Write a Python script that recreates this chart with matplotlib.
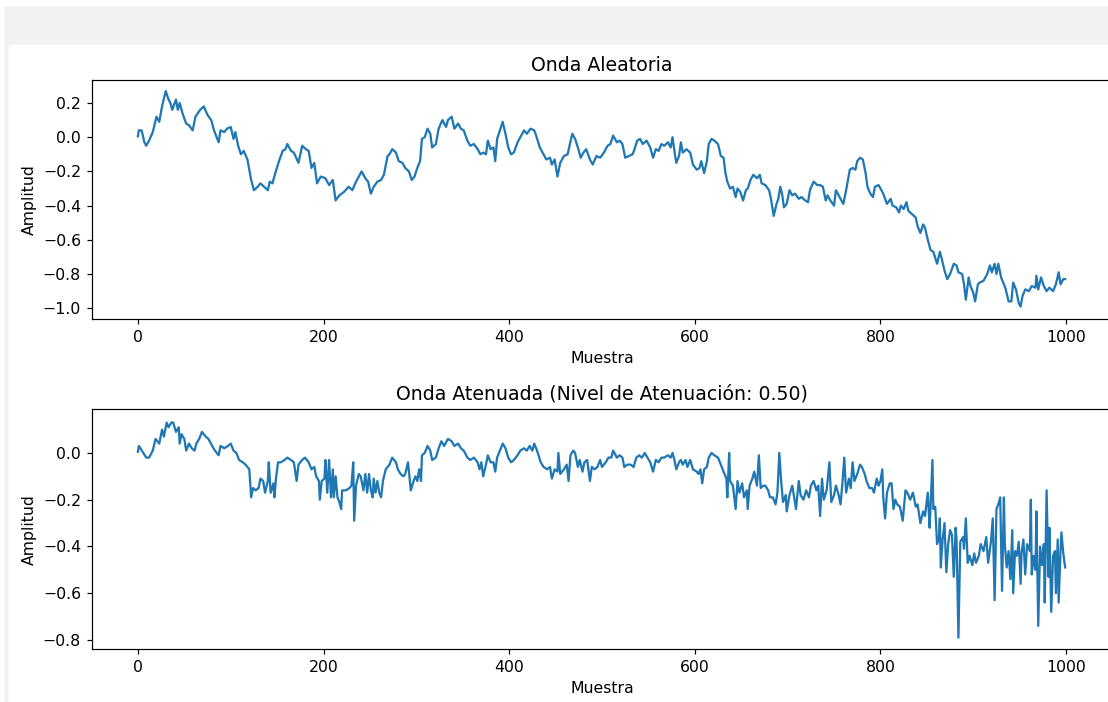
import matplotlib
matplotlib.use("Agg")
import matplotlib.pyplot as plt
from matplotlib.patches import Rectangle
from matplotlib.ticker import MultipleLocator

# valores (muestra, amplitud)
muestra_a = [
    0, 1, 4, 7, 9, 12, 16, 20, 23, 26,
    30, 33, 35, 37, 41, 43, 45, 48, 52, 55,
    59, 62, 67, 71, 75, 79, 82, 87, 89, 93,
    96, 100, 103, 105, 108, 111, 114, 118, 122, 125,
    129, 132, 136, 140, 142, 145, 148, 152, 156, 159,
    161, 165, 168, 173, 177, 181, 184, 187, 190, 193,
    197, 202, 206, 210, 213, 217, 222, 227, 231, 235,
    238, 241, 245, 248, 251, 254, 258, 262, 265, 269,
    271, 274, 278, 281, 285, 288, 292, 295, 298, 301,
    304, 306, 309, 312, 315, 317, 321, 324, 328, 332,
    334, 338, 341, 345, 348, 351, 355, 358, 362, 366,
    369, 372, 375, 377, 380, 383, 385, 387, 390, 393,
    396, 399, 402, 405, 409, 412, 416, 419, 423, 427,
    429, 433, 437, 440, 444, 446, 449, 452, 455, 459,
    463, 465, 468, 471, 474, 477, 480, 483, 487, 490,
    494, 498, 502, 506, 509, 512, 516, 519, 522, 525,
    529, 533, 535, 538, 541, 544, 548, 552, 555, 558,
    561, 564, 567, 571, 574, 576, 578, 580, 583, 585,
    587, 591, 595, 598, 602, 605, 607, 610, 613, 615,
    618, 621, 625, 628, 631, 633, 635, 638, 641, 644,
    646, 649, 652, 655, 657, 660, 663, 667, 670, 672,
    676, 680, 682, 685, 688, 690, 692, 694, 696, 699,
    702, 705, 708, 712, 715, 719, 722, 724, 728, 732,
    735, 738, 741, 743, 746, 750, 752, 756, 760, 763,
    767, 770, 773, 775, 778, 781, 784, 786, 789, 792,
    794, 798, 801, 803, 807, 811, 813, 817, 820, 822,
    825, 828, 830, 834, 838, 840, 843, 846, 848, 851,
    854, 857, 861, 864, 866, 869, 872, 875, 879, 882,
    884, 888, 890, 892, 895, 897, 900, 902, 905, 907,
    911, 915, 918, 920, 923, 925, 927, 930, 933, 935,
    938, 941, 943, 946, 949, 951, 953, 956, 960, 963,
    967, 968, 970, 973, 976, 979, 982, 986, 989, 992,
    994, 997, 999,
]
amplitud_a = [
    0.005, 0.04, 0.04, -0.03, -0.05, -0.02, 0.03, 0.12, 0.09, 0.18,
    0.27, 0.22, 0.20, 0.16, 0.22, 0.16, 0.20, 0.14, 0.08, 0.07,
    0.04, 0.12, 0.16, 0.18, 0.13, 0.10, 0.04, -0.03, 0.04, 0.03,
    0.05, 0.06, -0.01, 0.03, -0.05, -0.10, -0.08, -0.13, -0.25, -0.31,
    -0.29, -0.27, -0.29, -0.31, -0.26, -0.27, -0.21, -0.14, -0.08, -0.07,
    -0.04, -0.08, -0.09, -0.15, -0.05, -0.07, -0.08, -0.18, -0.15, -0.27,
    -0.23, -0.24, -0.28, -0.25, -0.37, -0.34, -0.32, -0.29, -0.31, -0.26,
    -0.23, -0.20, -0.24, -0.26, -0.33, -0.29, -0.26, -0.25, -0.22, -0.11,
    -0.10, -0.07, -0.09, -0.14, -0.15, -0.18, -0.20, -0.25, -0.23, -0.18,
    -0.14, -0.01, 0.00, 0.05, 0.02, -0.06, -0.04, 0.05, 0.10, 0.06,
    0.10, 0.12, 0.05, 0.08, 0.05, 0.04, -0.02, -0.05, -0.04, -0.07,
    -0.10, -0.09, -0.10, -0.02, -0.07, -0.06, -0.14, -0.01, 0.04, 0.09,
    0.02, -0.06, -0.10, -0.09, -0.03, 0.00, 0.04, 0.02, 0.05, 0.04,
    0.01, -0.06, -0.10, -0.13, -0.12, -0.16, -0.13, -0.23, -0.15, -0.11,
    -0.10, -0.05, 0.02, -0.01, -0.06, -0.12, -0.09, -0.07, -0.13, -0.16,
    -0.11, -0.12, -0.09, -0.05, -0.04, 0.01, -0.03, -0.02, -0.04, -0.12,
    -0.11, -0.10, -0.07, -0.02, -0.01, -0.04, -0.02, -0.06, -0.12, -0.07,
    -0.08, -0.04, -0.05, -0.03, -0.06, 0.00, -0.08, -0.15, -0.11, -0.03,
    -0.09, -0.07, -0.09, -0.16, -0.19, -0.18, -0.14, -0.21, -0.14, -0.04,
    -0.01, -0.02, -0.04, -0.11, -0.12, -0.21, -0.26, -0.30, -0.29, -0.35,
    -0.30, -0.32, -0.37, -0.31, -0.30, -0.25, -0.22, -0.24, -0.22, -0.27,
    -0.28, -0.31, -0.36, -0.46, -0.39, -0.36, -0.29, -0.33, -0.41, -0.39,
    -0.31, -0.34, -0.33, -0.36, -0.35, -0.37, -0.38, -0.31, -0.26, -0.28,
    -0.28, -0.29, -0.37, -0.34, -0.37, -0.40, -0.31, -0.35, -0.39, -0.31,
    -0.19, -0.18, -0.19, -0.14, -0.12, -0.13, -0.21, -0.29, -0.33, -0.35,
    -0.29, -0.28, -0.31, -0.33, -0.39, -0.36, -0.40, -0.41, -0.44, -0.40,
    -0.42, -0.38, -0.43, -0.45, -0.47, -0.52, -0.56, -0.51, -0.53, -0.60,
    -0.66, -0.67, -0.74, -0.67, -0.71, -0.78, -0.83, -0.80, -0.74, -0.75,
    -0.79, -0.80, -0.86, -0.95, -0.82, -0.87, -0.91, -0.96, -0.86, -0.85,
    -0.84, -0.80, -0.75, -0.79, -0.74, -0.80, -0.74, -0.82, -0.86, -0.89,
    -0.96, -0.96, -0.85, -0.89, -0.97, -0.99, -0.93, -0.89, -0.90, -0.87,
    -0.88, -0.81, -0.89, -0.82, -0.87, -0.90, -0.88, -0.90, -0.86, -0.79,
    -0.86, -0.83, -0.83,
]

muestra_b = [
    0, 1, 5, 9, 12, 16, 19, 23, 26, 28,
    31, 33, 36, 38, 41, 44, 45, 47, 50, 52,
    55, 58, 61, 63, 66, 69, 73, 76, 80, 83,
    87, 89, 93, 97, 100, 103, 106, 109, 113, 116,
    120, 122, 124, 127, 130, 132, 135, 137, 140, 141,
    143, 146, 147, 149, 151, 154, 158, 161, 165, 168,
    171, 173, 177, 180, 184, 187, 190, 192, 195, 196,
    198, 201, 202, 204, 206, 208, 210, 211, 213, 215,
    217, 219, 220, 224, 228, 230, 232, 233, 235, 238,
    240, 243, 245, 247, 249, 251, 253, 254, 256, 258,
    260, 262, 264, 267, 271, 274, 278, 280, 283, 286,
    288, 291, 294, 297, 299, 301, 303, 305, 306, 309,
    312, 315, 317, 321, 324, 327, 330, 334, 338, 341,
    345, 348, 351, 355, 358, 362, 366, 368, 370, 372,
    375, 377, 380, 383, 385, 387, 390, 393, 396, 399,
    402, 405, 409, 412, 416, 419, 422, 425, 427, 430,
    434, 437, 441, 444, 446, 449, 452, 453, 455, 459,
    462, 464, 466, 469, 471, 474, 476, 479, 481, 484,
    487, 489, 492, 495, 498, 500, 504, 507, 510, 512,
    516, 519, 522, 524, 527, 531, 534, 537, 540, 543,
    546, 549, 552, 555, 558, 561, 564, 567, 571, 574,
    576, 578, 580, 583, 585, 587, 590, 592, 595, 598,
    602, 604, 606, 608, 610, 613, 615, 618, 621, 625,
    628, 631, 634, 635, 637, 638, 641, 644, 646, 648,
    651, 653, 656, 657, 659, 662, 664, 667, 669, 671,
    674, 676, 679, 681, 684, 687, 689, 691, 693, 695,
    698, 699, 702, 705, 707, 709, 712, 714, 717, 720,
    723, 725, 728, 731, 733, 735, 737, 739, 742, 745,
    747, 750, 752, 755, 757, 759, 761, 763, 766, 768,
    770, 772, 775, 778, 780, 783, 785, 788, 791, 793,
    796, 798, 800, 802, 803, 805, 807, 810, 812, 814,
    816, 818, 821, 824, 827, 829, 832, 835, 838, 840,
    843, 846, 848, 851, 853, 854, 856, 857, 859, 861,
    863, 864, 865, 867, 869, 871, 873, 875, 877, 879,
    881, 882, 884, 886, 889, 890, 892, 894, 896, 899,
    901, 903, 906, 908, 911, 914, 916, 919, 921, 923,
    925, 927, 929, 931, 933, 934, 936, 938, 940, 942,
    943, 945, 947, 949, 951, 952, 954, 956, 958, 961,
    962, 963, 965, 967, 968, 970, 972, 974, 976, 977,
    979, 981, 982, 984, 986, 988, 989, 991, 992, 994,
    995, 997, 999,
]
amplitud_b = [
    0.005, 0.03, 0.005, -0.02, -0.02, 0.01, 0.06, 0.04, 0.10, 0.07,
    0.13, 0.11, 0.13, 0.13, 0.09, 0.11, 0.04, 0.08, 0.06, 0.01,
    0.04, 0.02, 0.01, 0.04, 0.06, 0.09, 0.07, 0.06, 0.03, 0.01,
    -0.01, 0.03, 0.02, 0.03, 0.04, 0.01, 0.00, -0.03, -0.04, -0.05,
    -0.07, -0.19, -0.15, -0.16, -0.15, -0.11, -0.12, -0.17, -0.12, -0.04,
    -0.17, -0.13, -0.19, -0.10, -0.04, -0.04, -0.03, -0.02, -0.03, -0.04,
    -0.12, -0.05, -0.03, -0.02, -0.04, -0.07, -0.06, -0.10, -0.12, -0.20,
    -0.12, -0.11, -0.03, -0.17, -0.03, -0.19, -0.07, -0.19, -0.10, -0.19,
    -0.21, -0.24, -0.16, -0.16, -0.15, -0.14, -0.04, -0.29, -0.14, -0.09,
    -0.10, -0.16, -0.09, -0.17, -0.09, -0.16, -0.19, -0.11, -0.17, -0.12,
    -0.17, -0.19, -0.12, -0.07, -0.05, -0.02, -0.04, -0.07, -0.09, -0.10,
    -0.09, -0.04, -0.16, -0.12, -0.10, -0.12, -0.07, -0.12, -0.01, 0.00,
    0.03, 0.01, -0.03, -0.02, 0.02, 0.05, 0.03, 0.06, 0.05, 0.03,
    0.04, 0.02, 0.01, -0.02, -0.03, -0.02, -0.04, -0.07, -0.04, -0.10,
    -0.05, -0.01, -0.04, -0.04, -0.08, -0.02, 0.01, 0.04, 0.02, -0.02,
    -0.04, -0.03, -0.01, 0.01, 0.02, 0.01, 0.03, 0.01, 0.04, 0.01,
    -0.04, -0.06, -0.07, -0.06, -0.11, -0.07, -0.08, 0.00, -0.09, -0.07,
    -0.05, -0.12, -0.01, 0.01, 0.00, -0.06, -0.03, -0.08, -0.04, -0.03,
    -0.12, -0.06, -0.07, -0.06, -0.03, -0.06, -0.04, -0.02, -0.02, 0.01,
    -0.02, -0.01, -0.02, -0.06, -0.05, -0.05, -0.06, -0.02, -0.01, -0.02,
    0.00, -0.02, -0.04, -0.08, -0.03, -0.04, -0.02, -0.02, -0.01, -0.02,
    0.00, -0.03, -0.07, -0.04, -0.03, -0.05, -0.03, -0.06, -0.03, -0.07,
    -0.08, -0.09, -0.07, -0.13, -0.07, -0.06, -0.02, 0.00, -0.01, -0.02,
    -0.05, -0.08, -0.11, -0.19, 0.00, -0.12, -0.14, -0.24, -0.12, -0.17,
    -0.13, -0.19, -0.16, -0.24, -0.14, -0.11, -0.08, -0.14, -0.01, -0.15,
    -0.14, -0.14, -0.16, -0.19, -0.19, -0.22, -0.17, 0.00, -0.12, -0.21,
    -0.18, -0.25, -0.18, -0.14, -0.19, -0.24, -0.12, -0.18, -0.20, -0.16,
    -0.19, -0.14, -0.12, -0.16, -0.14, -0.27, -0.11, -0.20, -0.16, -0.04,
    -0.21, -0.18, -0.14, -0.18, -0.22, -0.13, -0.02, -0.17, -0.11, -0.15,
    -0.04, -0.12, -0.09, -0.05, -0.06, -0.09, -0.12, -0.15, -0.15, -0.17,
    -0.11, -0.14, -0.12, -0.07, -0.19, -0.28, -0.17, -0.13, -0.13, -0.24,
    -0.20, -0.22, -0.23, -0.29, -0.16, -0.17, -0.20, -0.17, -0.23, -0.22,
    -0.30, -0.25, -0.27, -0.17, -0.32, -0.23, -0.03, -0.24, -0.23, -0.39,
    -0.36, -0.28, -0.49, -0.37, -0.30, -0.51, -0.39, -0.33, -0.35, -0.53,
    -0.32, -0.37, -0.79, -0.38, -0.36, -0.41, -0.28, -0.47, -0.44, -0.48,
    -0.43, -0.47, -0.44, -0.39, -0.42, -0.36, -0.47, -0.38, -0.28, -0.63,
    -0.24, -0.22, -0.19, -0.59, -0.19, -0.39, -0.49, -0.42, -0.54, -0.33,
    -0.60, -0.42, -0.44, -0.38, -0.56, -0.43, -0.37, -0.52, -0.39, -0.42,
    -0.20, -0.52, -0.44, -0.50, -0.25, -0.74, -0.40, -0.48, -0.39, -0.64,
    -0.16, -0.53, -0.32, -0.68, -0.44, -0.42, -0.60, -0.37, -0.64, -0.42,
    -0.34, -0.43, -0.49,
]

nivel_atenuacion = 0.50

W, H, DPI = 1108, 702, 108
plt.rcParams["font.size"] = 10.5


def px_box(left, top, right, bottom):
    """Caja en pixeles de la captura -> fracciones de la figura."""
    return [left / W, 1 - bottom / H, (right - left) / W, (bottom - top) / H]


fig = plt.figure(figsize=(W / DPI, H / DPI), dpi=DPI)

# barra gris de la celda del notebook y borde izquierdo
fig.patches.append(Rectangle((5 / W, 1 - 44 / H), (W - 5) / W, 37 / H,
                             transform=fig.transFigure, color="#f2f2f2", zorder=0))
fig.patches.append(Rectangle((5 / W, 0), 3 / W, 1 - 44 / H,
                             transform=fig.transFigure, color="#f2f2f2", zorder=0))

ax1 = fig.add_axes(px_box(91.5, 80, 1112.5, 319.5))
ax1.plot(muestra_a, amplitud_a, color="#1f77b4", lw=1.5)
ax1.set_xlim(-50, 1050)
ax1.set_ylim(-1.066, 0.3345)
ax1.yaxis.set_major_locator(MultipleLocator(0.2))
ax1.set_title("Onda Aleatoria")
ax1.set_xlabel("Muestra")
ax1.set_ylabel("Amplitud")

ax2 = fig.add_axes(px_box(91.5, 409, 1112.5, 649.3))
ax2.plot(muestra_b, amplitud_b, color="#1f77b4", lw=1.5)
ax2.set_xlim(-50, 1050)
ax2.set_ylim(-0.84, 0.188)
ax2.yaxis.set_major_locator(MultipleLocator(0.2))
ax2.set_title(f"Onda Atenuada (Nivel de Atenuación: {nivel_atenuacion:.2f})")
ax2.set_xlabel("Muestra")
ax2.set_ylabel("Amplitud")

fig.savefig("out.png", dpi=DPI)
